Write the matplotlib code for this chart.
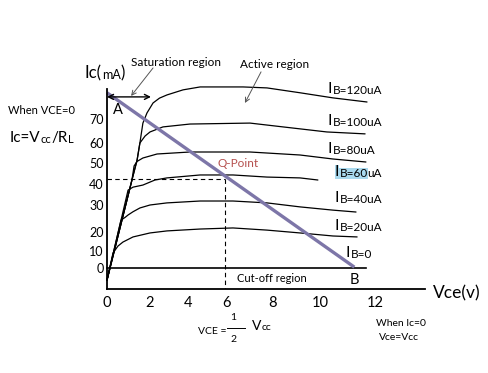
import numpy as np
import matplotlib.pyplot as plt

plt.rcParams['font.family'] = ['Lato', 'DejaVu Sans']

# collector curves (Vce in V, Ic in mA)
vce_120 = [0, 1.16, 1.40, 1.53, 1.67, 1.86, 2.16, 2.50, 2.89, 3.74, 4.62, 6.70, 7.74, 9.15, 10.47, 11.71]
ic_120 = [-6.9, 41.9, 51.5, 60.0, 68.3, 72.5, 76.6, 78.6, 79.9, 82.0, 83.2, 83.2, 82.8, 80.8, 78.7, 77.0]

vce_100 = [0, 1.16, 1.40, 1.53, 1.77, 2.0, 2.68, 4.10, 7.0, 8.43, 10.25, 11.64]
ic_100 = [-6.9, 41.9, 51.5, 60.0, 62.9, 64.6, 66.7, 67.9, 68.3, 66.7, 64.6, 63.8]

vce_80 = [0, 1.16, 1.26, 1.40, 1.67, 2.37, 4.10, 7.0, 9.15, 10.47, 11.67]
ic_80 = [-6.9, 41.9, 48.6, 50.8, 52.5, 54.5, 55.5, 55.5, 54.0, 52.0, 50.5]

vce_60 = [0, 0.98, 1.21, 1.67, 2.26, 2.89, 4.62, 6.26, 7.74, 9.15, 9.91]
ic_60 = [-6.9, 37.1, 38.5, 39.5, 41.9, 42.9, 44.3, 44.3, 43.3, 42.9, 41.9]

vce_40 = [0, 0.65, 0.84, 0.98, 1.21, 1.53, 2.0, 2.89, 4.62, 6.26, 7.74, 9.15, 10.47, 11.31]
ic_40 = [-6.9, 24.4, 25.4, 26.3, 27.5, 28.9, 30.0, 31.0, 31.9, 31.9, 31.0, 29.3, 28.1, 27.4]

vce_20 = [0, 0.28, 0.51, 0.74, 1.21, 2.0, 2.89, 4.62, 6.26, 7.74, 9.15, 10.47, 11.35]
ic_20 = [-6.9, 8.8, 12.6, 14.7, 17.4, 19.5, 20.4, 21.1, 21.5, 20.7, 19.5, 17.9, 17.4]

vce_0 = [0, 11.67]
ic_0 = [0, 0]

curves = [(vce_120, ic_120), (vce_100, ic_100), (vce_80, ic_80),
          (vce_60, ic_60), (vce_40, ic_40), (vce_20, ic_20)]

ib_values = [120, 100, 80, 60, 40, 20, 0]

# load line A -> B and the Q point
load_vce = [0, 11.25]
load_ic = [80.8, 0.5]
q_vce = 5.9
q_ic = 42.4

x_ticks = [0, 2, 4, 6, 8, 10, 12]
y_ticks = [0, 10, 20, 30, 40, 50, 60, 70]

W, H = 489, 373


def fp(x, y):
    # pixel (from top left) -> figure fraction
    return x / W, 1 - y / H


# the hand drawn axis is not evenly spaced, so use a piecewise scale
xk_v = [-100, 0, 2, 4, 6, 8, 10, 12, 100]
xk_px = [107 - 2150, 107, 150, 188, 227, 273, 320, 375, 375 + 88 * 27.5]
yk_ic = [-200, -12, 0, 10, 20, 30, 40, 50, 60, 70, 84, 300]
yk_px = [289 + 188 * 1.75, 289, 268, 251, 232, 205, 184, 163, 143, 119, 85, 85 - 216 * 2.43]


def xf(v):
    return np.interp(v, xk_v, xk_px)


def xi(p):
    return np.interp(p, xk_px, xk_v)


def yf(v):
    return -np.interp(v, yk_ic, yk_px)


def yi(p):
    return np.interp(-np.asarray(p), yk_px[::-1], yk_ic[::-1])


fig = plt.figure(figsize=(W / 100, H / 100), dpi=100)
ax = fig.add_axes([107 / W, 1 - 289 / H, (425 - 107) / W, (289 - 89) / H])
ax.set_xscale('function', functions=(xf, xi))
ax.set_yscale('function', functions=(yf, yi))
ax.set_xlim(0, float(xi(425)))
ax.set_ylim(-12, float(yi(-89)))
ax.minorticks_off()
ax.set_xticks(x_ticks)
ax.set_xticklabels([str(v) for v in x_ticks])
ax.set_yticks(y_ticks)
ax.set_yticklabels([str(v) for v in y_ticks])
ax.tick_params(axis='x', length=0, pad=5, labelsize=10.5)
ax.tick_params(axis='y', length=0, pad=2.5, labelsize=9)
for s in ['top', 'right']:
    ax.spines[s].set_visible(False)
for s in ['left', 'bottom']:
    ax.spines[s].set_linewidth(1.3)

for v, i in curves:
    ax.plot(v, i, color='black', lw=0.9, clip_on=False,
            solid_joinstyle='round', solid_capstyle='round')
ax.plot(vce_0, ic_0, color='black', lw=1.2, clip_on=False)

# dashed lines to Q
ax.plot([0, q_vce], [q_ic, q_ic], color='black', lw=0.8, ls=(0, (4, 3)))
ax.plot([q_vce, q_vce], [q_ic, -12], color='black', lw=0.8, ls=(0, (4, 3)))

# load line
ax.plot(load_vce, load_ic, color='#7d76a8', lw=2.4, clip_on=False, solid_capstyle='butt')

# saturation double arrow and pointers
ax.annotate('', xy=(0, 79.1), xytext=(2.05, 79.1),
            arrowprops=dict(arrowstyle='<->', lw=1, color='black',
                            shrinkA=0, shrinkB=0, mutation_scale=9),
            annotation_clip=False)
ax.annotate('', xy=(1.12, 79.5), xytext=(2.16, 91.0),
            arrowprops=dict(arrowstyle='->', lw=0.7, color='#555555',
                            shrinkA=0, shrinkB=0, mutation_scale=8),
            annotation_clip=False)
ax.annotate('', xy=(6.78, 76.6), xytext=(7.48, 89.4),
            arrowprops=dict(arrowstyle='->', lw=0.7, color='#555555',
                            shrinkA=0, shrinkB=0, mutation_scale=8),
            annotation_clip=False)


def chain(parts, x, y, color='black'):
    # draw text pieces of mixed sizes one after another
    t = fig.text(*fp(x, y), parts[0][0], size=parts[0][1], ha='left',
                 va='center', color=color)
    arts = [t]
    for s, sz in parts[1:]:
        t = ax.annotate(s, xy=(1, 0), xycoords=t, size=sz, ha='left',
                        va='bottom', color=color, annotation_clip=False)
        arts.append(t)
    return arts


# IB labels
ib_pos = [(328, 89), (328, 121), (328, 149), (335, 172), (335, 198), (335, 226), (346, 253)]
for ib, (x, y) in zip(ib_values, ib_pos):
    if ib == 0:
        chain([('I', 11.5), ('B=0', 8.5)], x, y)
    elif ib == 60:
        arts = chain([('I', 11.5), ('B=60', 8.5), ('uA', 8.5)], x, y)
        for a in arts[:2]:
            a.set_bbox(dict(facecolor='#a9d9ee', edgecolor='none', pad=0))
    else:
        chain([('I', 11.5), ('B=%duA' % ib, 8.5)], x, y)

# axis titles
chain([('Ic(', 12), ('mA', 9), (')', 12)], 85, 73)
fig.text(*fp(433, 293), 'Vce(v)', size=12.5, ha='left', va='center')

fig.text(*fp(176, 62), 'Saturation region', size=8.5, ha='center', va='center')
fig.text(*fp(275, 64), 'Active region', size=8.5, ha='center', va='center')
fig.text(*fp(8, 111), 'When VCE=0', size=8, ha='left', va='center')
chain([('Ic=V', 11), ('cc', 8), ('/R', 11), ('L', 8)], 10, 138)
fig.text(*fp(118, 110), 'A', size=10.5, ha='center', va='center')
fig.text(*fp(354, 280), 'B', size=10.5, ha='center', va='center')
fig.text(*fp(238, 163), 'Q-Point', size=8.5, ha='center', va='center', color='#b5504e')
fig.text(*fp(272, 279), 'Cut-off region', size=8, ha='center', va='center')

# VCE = 1/2 Vcc
fig.text(*fp(212, 332), 'VCE =', size=7.5, ha='center', va='center')
fig.text(*fp(233, 317), '1', size=7.5, ha='center', va='center')
fig.text(*fp(233, 340), '2', size=7.5, ha='center', va='center')
fig.add_artist(plt.Line2D([227 / W, 245 / W], [1 - 328 / H, 1 - 328 / H], color='black', lw=0.7))
chain([('V', 10), ('cc', 7.5)], 252, 326)

fig.text(*fp(401, 323), 'When Ic=0', size=7.5, ha='center', va='center')
fig.text(*fp(399, 337), 'Vce=Vcc', size=7.5, ha='center', va='center')

fig.savefig('out.png', dpi=100, facecolor='white')
